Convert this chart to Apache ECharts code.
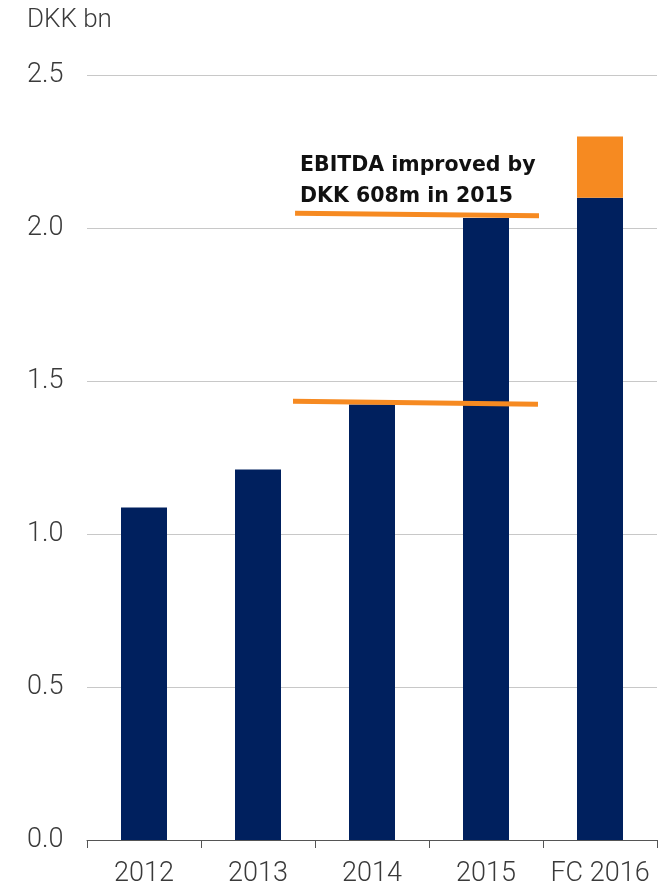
<!DOCTYPE html>
<html>
<head>
<meta charset="utf-8">
<script src="https://cdn.jsdelivr.net/npm/echarts@6/dist/echarts.min.js"></script>
<style>
html,body{margin:0;padding:0;background:#fff;}
#chart{width:663px;height:888px;}
</style>
</head>
<body>
<div id="chart"></div>
<script>
var categories = ['2012', '2013', '2014', '2015', 'FC 2016'];
var ebitda = [1.087, 1.211, 1.423, 2.033, 2.099];
var forecastUpside = [null, null, null, null, 0.2];
var yTicks = [0, 0.5, 1.0, 1.5, 2.0, 2.5];
var line2014 = [[1.307, 1.434], [3.456, 1.424]];
var line2015 = [[1.325, 2.048], [3.465, 2.040]];
var unitLabel = 'DKK bn';
var annotation = 'EBITDA improved by\nDKK 608m in 2015';

var chart = echarts.init(document.getElementById('chart'), null, {renderer: 'canvas'});
var labelFont = {fontFamily: 'Roboto', fontWeight: 300, fontSize: 27, color: '#3a3a3a'};
chart.setOption({
  animation: false,
  backgroundColor: '#fff',
  grid: {left: 87, right: 6, top: 75, bottom: 47, containLabel: false},
  graphic: [
    {type: 'text', left: 27, top: 7, style: {text: unitLabel, font: '300 26px Roboto', fill: '#3a3a3a'}},
    {type: 'text', left: 300, top: 150, z: 20, style: {text: annotation, font: 'bold 20.5px "DejaVu Sans"', fill: '#111', lineHeight: 31}}
  ],
  xAxis: [{
    type: 'category',
    data: categories,
    axisLine: {lineStyle: {color: '#555', width: 1}},
    axisTick: {show: true, length: 8, lineStyle: {color: '#555'}},
    axisLabel: Object.assign({margin: 21, interval: 0}, labelFont),
    splitLine: {show: false}
  }, {
    type: 'value', show: false, min: -0.5, max: 4.5
  }],
  yAxis: {
    type: 'value',
    min: yTicks[0],
    max: yTicks[yTicks.length - 1],
    interval: 0.5,
    axisLine: {show: false},
    axisTick: {show: false},
    axisLabel: Object.assign({margin: 60, align: 'left', formatter: function (v) { return v.toFixed(1); }}, labelFont),
    splitLine: {lineStyle: {color: '#c8c8c8', width: 1}}
  },
  series: [
    {type: 'bar', stack: 'e', data: ebitda, barWidth: 46, itemStyle: {color: '#00205e'}},
    {type: 'bar', stack: 'e', data: forecastUpside, barWidth: 46, itemStyle: {color: '#f68a21'}},
    {type: 'line', xAxisIndex: 1, data: line2014, symbol: 'none', z: 10, lineStyle: {color: '#f68a21', width: 5}},
    {type: 'line', xAxisIndex: 1, data: line2015, symbol: 'none', z: 10, lineStyle: {color: '#f68a21', width: 5}}
  ]
});
</script>
</body>
</html>
